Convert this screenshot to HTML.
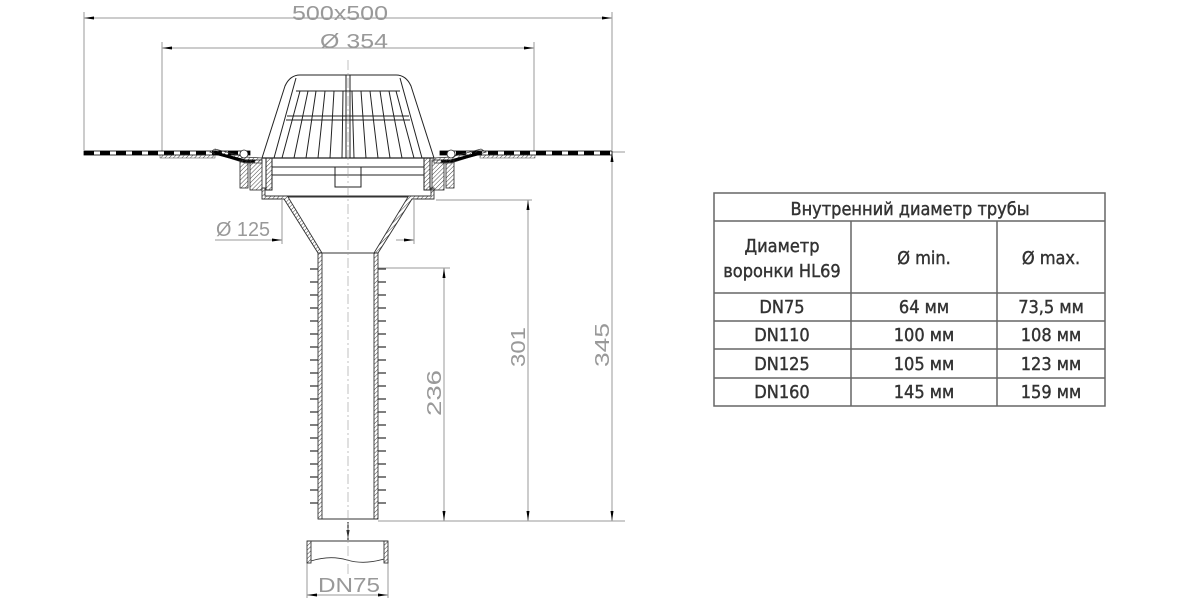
<!DOCTYPE html>
<html><head><meta charset="utf-8"><style>
body{margin:0;background:#fff;width:1200px;height:600px;overflow:hidden}
svg{position:absolute;left:0;top:0}
</style></head><body>
<svg width="1200" height="600" viewBox="0 0 1200 600" xmlns="http://www.w3.org/2000/svg" font-family="Liberation Sans, DejaVu Sans, sans-serif">
<defs>
<marker id="a" viewBox="0 0 10 4" refX="10" refY="2" markerWidth="10" markerHeight="4" orient="auto-start-reverse" markerUnits="userSpaceOnUse"><path d="M0,0.5 L10,2 L0,3.5z" fill="#000"/></marker>
<pattern id="h" width="3" height="3" patternUnits="userSpaceOnUse" patternTransform="rotate(45)"><line x1="0" y1="0" x2="0" y2="3" stroke="#444" stroke-width="1"/></pattern>
</defs>
<g stroke="#999" stroke-width="1" fill="none">
<line x1="84" y1="18" x2="612" y2="18" marker-start="url(#a)" marker-end="url(#a)"/>
<line x1="84" y1="12" x2="84" y2="150"/><line x1="612" y1="12" x2="612" y2="150"/>
<line x1="162" y1="48" x2="534" y2="48" marker-start="url(#a)" marker-end="url(#a)"/>
<line x1="162" y1="42" x2="162" y2="152"/><line x1="534" y1="42" x2="534" y2="152"/>
<line x1="282" y1="200" x2="282" y2="244"/><line x1="414" y1="200" x2="414" y2="244"/>
<line x1="215" y1="240" x2="282" y2="240"/>
<line x1="262" y1="240" x2="282" y2="240" marker-end="url(#a)"/>
<line x1="414" y1="240" x2="396" y2="240" marker-start="url(#a)"/>
<line x1="378" y1="268" x2="450" y2="268"/>
<line x1="436" y1="200" x2="532" y2="200"/>
<line x1="612" y1="152" x2="625" y2="152"/>
<line x1="378" y1="521" x2="625" y2="521"/>
<line x1="444" y1="268" x2="444" y2="521" marker-start="url(#a)" marker-end="url(#a)"/>
<line x1="528" y1="200" x2="528" y2="521" marker-start="url(#a)" marker-end="url(#a)"/>
<line x1="612" y1="152" x2="612" y2="521" marker-start="url(#a)" marker-end="url(#a)"/>
<line x1="307" y1="560" x2="307" y2="598"/><line x1="388" y1="560" x2="388" y2="598"/>
<line x1="307" y1="595" x2="388" y2="595" marker-start="url(#a)" marker-end="url(#a)"/>
</g>
<g fill="#999" font-size="20">
<text x="292" y="20" textLength="96" lengthAdjust="spacingAndGlyphs">500x500</text>
<text x="320" y="48" textLength="68" lengthAdjust="spacingAndGlyphs">Ø 354</text>
<text x="216" y="236" textLength="54" lengthAdjust="spacingAndGlyphs">Ø 125</text>
<text x="318" y="592" textLength="62" lengthAdjust="spacingAndGlyphs">DN75</text>
<text transform="translate(441,416) rotate(-90)" textLength="46" lengthAdjust="spacingAndGlyphs">236</text>
<text transform="translate(525,367) rotate(-90)" textLength="40" lengthAdjust="spacingAndGlyphs">301</text>
<text transform="translate(609,367) rotate(-90)" textLength="44" lengthAdjust="spacingAndGlyphs">345</text>
</g>
<rect x="84" y="151" width="166" height="4" fill="#fff" stroke="#000" stroke-width="0.8"/>
<rect x="440" y="151" width="172" height="4" fill="#fff" stroke="#000" stroke-width="0.8"/>
<line x1="84" y1="153" x2="250" y2="153" stroke="#000" stroke-width="4" stroke-dasharray="10,6"/>
<line x1="440" y1="153" x2="612" y2="153" stroke="#000" stroke-width="4" stroke-dasharray="10,6"/>
<rect x="160" y="155" width="55" height="3" fill="url(#h)" stroke="#444" stroke-width="0.5"/>
<rect x="480" y="155" width="55" height="3" fill="url(#h)" stroke="#444" stroke-width="0.5"/>
<path d="M210,152 L245,163 L262,163 L262,158 L245,157 L215,149z" fill="url(#h)" stroke="#333" stroke-width="0.7"/>
<path d="M486,152 L451,163 L434,163 L434,158 L451,157 L481,149z" fill="url(#h)" stroke="#333" stroke-width="0.7"/>
<path d="M215,153 L245,161 L255,161" stroke="#000" stroke-width="3" fill="none"/>
<path d="M481,153 L451,161 L441,161" stroke="#000" stroke-width="3" fill="none"/>
<g stroke="#222" stroke-width="0.8">
<rect x="240" y="160" width="8" height="28" fill="url(#h)"/><rect x="250" y="160" width="12" height="30" fill="url(#h)"/>
<rect x="446" y="160" width="8" height="28" fill="url(#h)"/><rect x="432" y="160" width="12" height="30" fill="url(#h)"/>
<circle cx="244" cy="154" r="4" fill="#fff"/><circle cx="451" cy="154" r="4" fill="#fff"/>
</g>
<g stroke="#222" stroke-width="1" fill="none">
<path d="M262,158 L285,86 Q290,75 300,75 L396,75 Q406,75 411,86 L434,158"/>
<path d="M274,158 L296,78 M422,158 L400,78"/>
<line x1="296" y1="91" x2="400" y2="91"/>
<line x1="287" y1="116" x2="409" y2="116"/><line x1="286" y1="120" x2="410" y2="120"/>
<path d="M282,158 L300,91 M294,158 L308,91 M306,158 L316,91 M318,158 L325,91 M330,158 L334,91 M342,158 L343,91 M354,158 L352,91 M366,158 L361,91 M378,158 L370,91 M390,158 L380,91 M402,158 L389,91 M414,158 L396,91"/>
<line x1="346" y1="75" x2="346" y2="158"/><line x1="350" y1="75" x2="350" y2="158"/>
<line x1="262" y1="158" x2="434" y2="158" stroke-width="1.3"/>
<line x1="272" y1="167" x2="424" y2="167"/><line x1="272" y1="175" x2="424" y2="175"/>
<rect x="335" y="167" width="26" height="20"/>
<rect x="266" y="158" width="6" height="32" fill="url(#h)"/><rect x="424" y="158" width="6" height="32" fill="url(#h)"/>
</g>
<g stroke="#333" stroke-width="0.9">
<path d="M262,188 L262,199 L284,199 L318,253 L322,253 L288,197 L408,197 L374,253 L378,253 L412,199 L434,199 L434,188 L431,188 L431,196 L265,196 L265,188z" fill="url(#h)"/>
<rect x="318" y="253" width="4" height="266" fill="url(#h)"/>
<rect x="374" y="253" width="4" height="266" fill="url(#h)"/>
<line x1="322" y1="253" x2="374" y2="253" fill="none"/>
<line x1="318" y1="519" x2="378" y2="519" fill="none"/>
</g>
<g stroke="#333" stroke-width="1.3" fill="none">
<path d="M318,269h-8m8,13h-8m8,13h-8m8,13h-8m8,13h-8m8,13h-8m8,13h-8m8,13h-8m8,13h-8m8,13h-8m8,13h-8m8,13h-8m8,13h-8m8,13h-8m8,13h-8m8,13h-8m8,13h-8m8,13h-8m8,13h-8"/>
<path d="M378,269h8m-8,13h8m-8,13h8m-8,13h8m-8,13h8m-8,13h8m-8,13h8m-8,13h8m-8,13h8m-8,13h8m-8,13h8m-8,13h8m-8,13h8m-8,13h8m-8,13h8m-8,13h8m-8,13h8m-8,13h8m-8,13h8"/>
</g>
<g stroke="#333" stroke-width="0.9" fill="none">
<line x1="307" y1="541" x2="388" y2="541"/>
<rect x="307" y="541" width="4" height="22" fill="url(#h)"/><rect x="384" y="541" width="4" height="22" fill="url(#h)"/>
<path d="M311,561 Q330,555 347,560 T384,559"/>
</g>
<line x1="348" y1="522" x2="348" y2="540" stroke="#000" marker-end="url(#a)"/>
<line x1="348" y1="60" x2="348" y2="575" stroke="#999" stroke-width="0.6" stroke-dasharray="10,3,2,3"/>
<g stroke="#666" stroke-width="1.5" fill="none">
<rect x="714" y="193" width="391" height="213"/>
<line x1="714" y1="221" x2="1105" y2="221"/>
<line x1="714" y1="293" x2="1105" y2="293"/>
<line x1="714" y1="321" x2="1105" y2="321"/>
<line x1="714" y1="349" x2="1105" y2="349"/>
<line x1="714" y1="378" x2="1105" y2="378"/>
<line x1="851" y1="221" x2="851" y2="406"/>
<line x1="997" y1="221" x2="997" y2="406"/>
</g>
<g fill="#333" stroke="#333" stroke-width="0.4" font-size="18" text-anchor="middle" font-family="DejaVu Sans Condensed, DejaVu Sans, Liberation Sans, sans-serif">
<text x="910" y="215">Внутренний диаметр трубы</text>
<text x="782" y="252">Диаметр</text>
<text x="782" y="277">воронки HL69</text>
<text x="924" y="264">Ø min.</text>
<text x="1051" y="264">Ø max.</text>
<text x="782" y="313">DN75</text><text x="924" y="313">64 мм</text><text x="1051" y="313">73,5 мм</text>
<text x="782" y="341">DN110</text><text x="924" y="341">100 мм</text><text x="1051" y="341">108 мм</text>
<text x="782" y="370">DN125</text><text x="924" y="370">105 мм</text><text x="1051" y="370">123 мм</text>
<text x="782" y="398">DN160</text><text x="924" y="398">145 мм</text><text x="1051" y="398">159 мм</text>
</g>
</svg>
</body></html>
